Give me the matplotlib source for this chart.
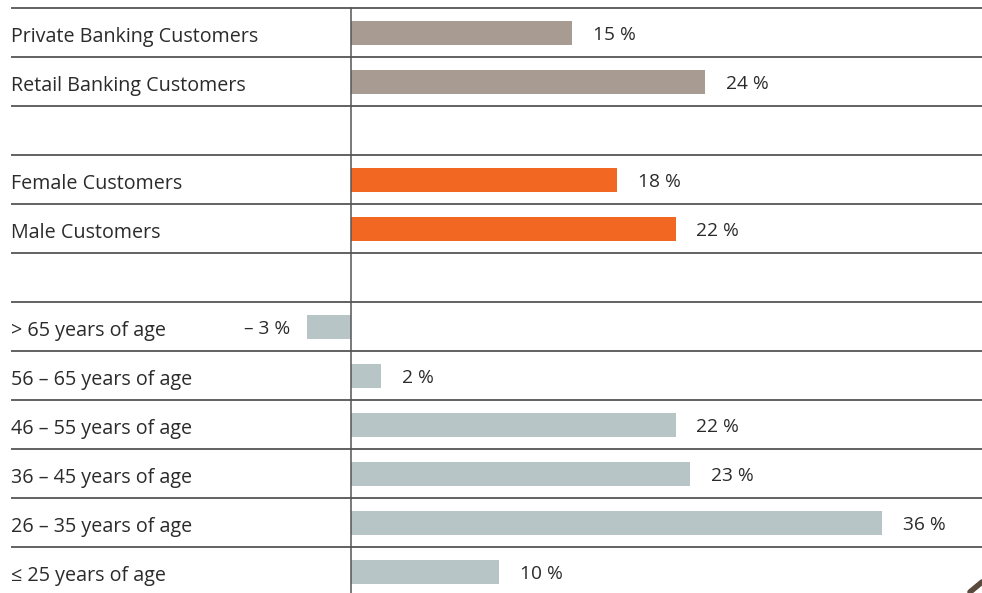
import matplotlib
matplotlib.use("Agg")
import matplotlib.pyplot as plt

plt.rcParams['font.family'] = ['Open Sans', 'DejaVu Sans']

# rows top to bottom, blank rows are spacers between groups
labels = ["Private Banking Customers", "Retail Banking Customers", "",
          "Female Customers", "Male Customers", "",
          "> 65 years of age", "56 – 65 years of age", "46 – 55 years of age",
          "36 – 45 years of age", "26 – 35 years of age", "≤ 25 years of age"]
values = [15, 24, None, 18, 22, None, -3, 2, 22, 23, 36, 10]
value_text = ["15 %", "24 %", "", "18 %", "22 %", "",
              "– 3 %", "2 %", "22 %", "23 %", "36 %", "10 %"]
colors = ["#a89c92", "#a89c92", None, "#f26722", "#f26722", None,
          "#b8c5c6", "#b8c5c6", "#b8c5c6", "#b8c5c6", "#b8c5c6", "#b8c5c6"]

W, H = 982, 593
px = 14.75          # pixels per percent
x0 = 351            # pixel of zero
top = 8
row = 49

fig = plt.figure(figsize=(W / 100, H / 100), dpi=100)
ax = fig.add_axes([0, 0, 1, 1])
ax.set_xlim(-x0 / px, (W - x0) / px)
ax.set_ylim((H - top) / row, -top / row)
ax.axis('off')

xl = (11 - x0) / px
# row separator lines
for i in range(len(labels)):
    ax.plot([xl, (W - x0) / px], [i, i], color="#555555", lw=1.3,
            solid_capstyle='butt', zorder=1)
ax.plot([0, 0], [0, (H - top) / row], color="#555555", lw=1.1, zorder=3)

for i, (lab, v, t, c) in enumerate(zip(labels, values, value_text, colors)):
    yc = i + 0.5
    if lab:
        ax.text(xl, yc + 0.09, lab, ha='left', va='center', fontsize=14.2,
                color="#2b2b2b")
    if v is None:
        continue
    ax.barh(yc + 0.01, v, height=0.47, color=c, zorder=2)
    if v >= 0:
        ax.annotate(t, (v, yc + 0.05), xytext=(21, 0), textcoords='offset pixels',
                    ha='left', va='center', fontsize=13.8, color="#2b2b2b")
    else:
        ax.annotate(t, (v, yc + 0.05), xytext=(-17, 0), textcoords='offset pixels',
                    ha='right', va='center', fontsize=13.8, color="#2b2b2b")

# page curl mark in the corner
ax.plot([(970 - x0) / px, (W - x0) / px], [(592 - top) / row, (582 - top) / row],
        color="#5a4a3e", lw=4, solid_capstyle='round', zorder=4)

fig.savefig("out.png", dpi=100)
